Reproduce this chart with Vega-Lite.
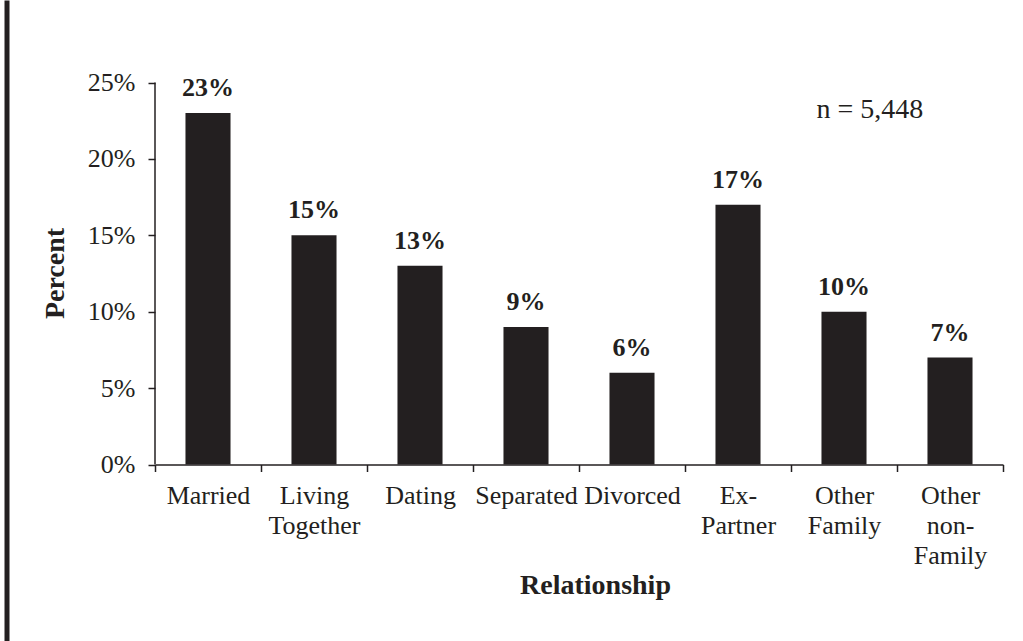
{
  "$schema": "https://vega.github.io/schema/vega-lite/v6.json",
  "autosize": "none",
  "padding": {"left": 155, "top": 0, "right": 20, "bottom": 0},
  "width": 848,
  "height": 641,
  "background": "white",
  "config": {
    "view": {"stroke": null},
    "font": "Liberation Serif",
    "axis": {"labelFont": "Liberation Serif", "titleFont": "Liberation Serif", "labelColor": "#231f20", "titleColor": "#231f20", "domainColor": "#231f20", "tickColor": "#231f20"},
    "text": {"font": "Liberation Serif", "color": "#231f20"}
  },
  "data": {
    "values": [
      {"cat": "Married", "pct": 23, "label": "23%"},
      {"cat": "Living Together", "pct": 15, "label": "15%"},
      {"cat": "Dating", "pct": 13, "label": "13%"},
      {"cat": "Separated", "pct": 9, "label": "9%"},
      {"cat": "Divorced", "pct": 6, "label": "6%"},
      {"cat": "Ex-Partner", "pct": 17, "label": "17%"},
      {"cat": "Other Family", "pct": 10, "label": "10%"},
      {"cat": "Other non-Family", "pct": 7, "label": "7%"}
    ]
  },
  "resolve": {"axis": {"y": "independent"}},
  "layer": [
    {
      "mark": {"type": "bar", "color": "#231f20", "width": {"band": 0.425}},
      "encoding": {
        "x": {
          "field": "cat", "type": "nominal", "sort": null,
          "scale": {"paddingInner": 0, "paddingOuter": 0},
          "axis": {
            "orient": "bottom", "offset": -176.5,
            "labelAngle": 0, "labelFontSize": 26, "labelLineHeight": 30,
            "labelExpr": "isValid(datum.value) ? split(replace(datum.value, '-', '- '), ' ') : ''",
            "labelOverlap": false, "labelBound": false, "labelPadding": 11,
            "tickBand": "extent", "tickSize": 7, "tickWidth": 1.5, "domainWidth": 1.5,
            "title": "Relationship", "titleFontSize": 28, "titleFontWeight": "bold",
            "titleX": 440, "titleY": 128.5, "titleBaseline": "alphabetic", "titleAlign": "center", "titleAnchor": null
          }
        },
        "y": {
          "field": "pct", "type": "quantitative",
          "scale": {"domain": [-11.55, 30.4], "nice": false, "zero": false},
          "axis": {
            "orient": "left", "values": [0, 5, 10, 15, 20, 25],
            "labelExpr": "datum.value + '%'", "labelFontSize": 26, "labelPadding": 13,
            "tickSize": 7, "tickWidth": 1.5, "domain": false, "grid": false,
            "title": "Percent", "titleFontSize": 28, "titleFontWeight": "bold",
            "titleX": -92, "titleY": 273, "titleBaseline": "alphabetic", "titleAlign": "center", "titleAngle": -90
          }
        }
      }
    },
    {
      "mark": {"type": "text", "fontSize": 26, "fontWeight": "bold", "baseline": "alphabetic", "dy": -17},
      "encoding": {
        "x": {"field": "cat", "type": "nominal", "sort": null},
        "y": {"field": "pct", "type": "quantitative", "axis": null},
        "text": {"field": "label"}
      }
    },
    {
      "data": {"values": [{"cat": "Married", "lo": 0, "hi": 25}]},
      "mark": {"type": "rule", "color": "#231f20", "strokeWidth": 1.5},
      "encoding": {
        "x": {"field": "cat", "type": "nominal", "sort": null, "bandPosition": 0},
        "y": {
          "field": "lo", "type": "quantitative",
          "axis": {"orient": "left", "offset": 148.5, "domainWidth": 5, "domainColor": "#231f20", "ticks": false, "labels": false, "grid": false, "title": null, "domainCap": "butt"}
        },
        "y2": {"field": "hi"}
      }
    },
    {
      "data": {"values": [{"cat": "Other Family", "v": 22.68, "t": "n = 5,448"}]},
      "mark": {"type": "text", "fontSize": 28, "baseline": "alphabetic", "align": "center"},
      "encoding": {
        "x": {"field": "cat", "type": "nominal", "sort": null, "bandPosition": 0.745},
        "y": {"field": "v", "type": "quantitative", "axis": null},
        "text": {"field": "t"}
      }
    }
  ]
}
